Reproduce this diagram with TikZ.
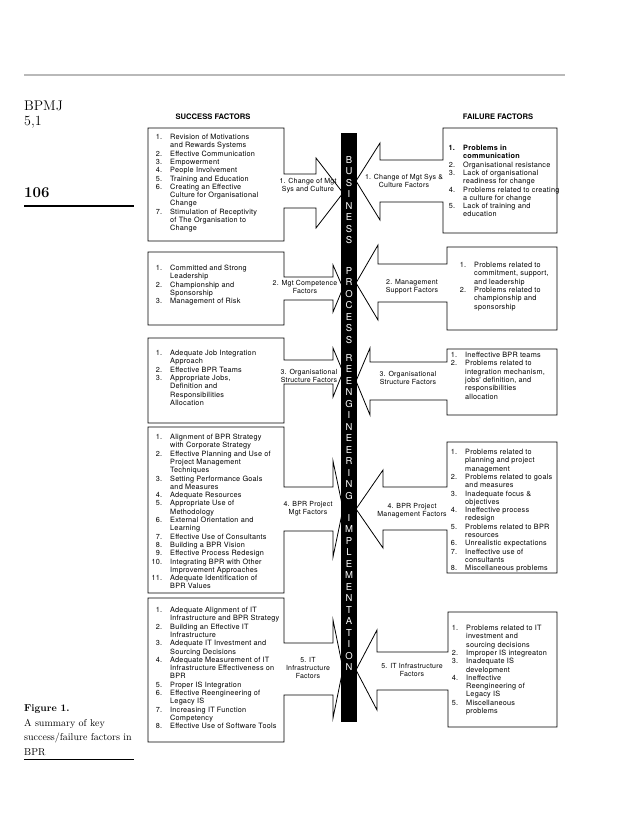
\documentclass[tikz,border=0pt]{standalone}
\usepackage{fontspec}
\usepackage{array}
\newfontfamily\helv[LetterSpace=3]{TeX Gyre Heros}
\newfontfamily\helvplain{TeX Gyre Heros}
\newcolumntype{R}[1]{>{\raggedleft\arraybackslash}p{#1}}
\newcommand{\flist}[1]{\begin{tabular}[t]{@{}R{12pt}@{\hspace{8pt}}l@{}}#1\end{tabular}}

\begin{document}
\begin{tikzpicture}[
  x=1pt, y=-1pt,
  frame/.style={draw, line width=0.8pt, fill=white, line join=miter},
  lst/.style={anchor=base west, inner sep=0pt,
              font=\helv\fontsize{7.3}{8.3}\selectfont},
  tag/.style={inner sep=0pt, align=center,
              font=\helv\fontsize{7}{7.8}\selectfont},
  headline/.style={inner sep=0pt, anchor=base,
                   font=\helvplain\bfseries\fontsize{7.6}{9}\selectfont},
  barch/.style={inner sep=0pt, text=white,
                font=\helvplain\fontsize{9.5}{10}\selectfont},
  side/.style={inner sep=0pt, anchor=base west, align=left}
]
  \useasboundingbox (0,0) rectangle (638,832);

  % page furniture
  \draw[line width=2pt, gray!55] (24,75) -- (565,75);
  \node[side, font=\fontsize{14}{15}\selectfont] (jrnl) at (24,111) {BPMJ};
  \node[side, font=\fontsize{14}{15}\selectfont] (vol) at (24,126) {5,1};
  \node[side, font=\bfseries\fontsize{15}{16}\selectfont] (page) at (24,197) {106};
  \draw[line width=2.5pt] (24,206) -- (134,206);
  \node[side, font=\fontsize{10}{14.5}\selectfont] (cap) at (24,755)
    {\textbf{Figure 1.}\\A summary of key\\success/failure factors in\\BPR};
  \draw[line width=0.6pt] (24,759.5) -- (134,759.5);

  % headings
  \node[headline] (succ) at (213,120) {SUCCESS FACTORS};
  \node[headline] (fail) at (498,120) {FAILURE FACTORS};

  % success boxes with arrows
  \foreach \t/\b/\sa/\sb/\ha/\hb/\bx/\ty in {
      128/241/174/208/158/228/316/193,
      252/325/277/300/265/312/333/288,
      338/423/360/384/348/397/333/372,
      427/593/487/531/461/557/333/509,
      598/742/643/695/620/718/333/669}
    \draw[frame] (148,\t) -- (284,\t) -- (284,\sa) -- (\bx,\sa) -- (\bx,\ha)
      -- (343,\ty) -- (\bx,\hb) -- (\bx,\sb) -- (284,\sb) -- (284,\b)
      -- (148,\b) -- cycle;

  % failure boxes with arrows
  \foreach \l/\t/\b/\sa/\sb/\ha/\hb/\bx/\ty in {
      443/128/233/160/202/143/220/380/181,
      447/247/330/264/302/245/320/378/283,
      447/349/415/362/400/348/415/370/381,
      447/442/573/487/530/470/548/383/509,
      448/612/727/652/690/630/710/377/670}
    \draw[frame] (557,\t) -- (\l,\t) -- (\l,\sa) -- (\bx,\sa) -- (\bx,\ha)
      -- (356,\ty) -- (\bx,\hb) -- (\bx,\sb) -- (\l,\sb) -- (\l,\b)
      -- (557,\b) -- cycle;

  % central bar
  \fill[black] (341,133) rectangle (357,722);
  \foreach \c [count=\i from 0] in {B,U,S,I,N,E,S,S}
    \node[barch] (bus\i) at (349,160+11.5*\i) {\c};
  \foreach \c [count=\i from 0] in {P,R,O,C,E,S,S}
    \node[barch] (pro\i) at (349,271+11.5*\i) {\c};
  \foreach \c [count=\i from 0] in {R,E,E,N,G,I,N,E,E,R,I,N,G}
    \node[barch] (ree\i) at (349,358+11.5*\i) {\c};
  \foreach \c [count=\i from 0] in {I,M,P,L,E,M,E,N,T,A,T,I,O,N}
    \node[barch] (imp\i) at (349,518+11.5*\i) {\c};

  % arrow labels
  \node[tag] (sl1) at (308,186) {1. Change of Mgt\\Sys and Culture};
  \node[tag] (sl2) at (305,287) {2. Mgt Competence\\Factors};
  \node[tag] (sl3) at (309,376) {3. Organisational\\Structure Factors};
  \node[tag] (sl4) at (308,509) {4. BPR Project\\Mgt Factors};
  \node[tag] (sl5) at (308,668) {5. IT\\Infrastructure\\Factors};
  \node[tag] (fl1) at (404,181) {1. Change of Mgt Sys \&\\Culture Factors};
  \node[tag] (fl2) at (412,287) {2. Management\\Support Factors};
  \node[tag] (fl3) at (408,378) {3. Organisational\\Structure Factors};
  \node[tag] (fl4) at (412,511) {4. BPR Project\\Management Factors};
  \node[tag] (fl5) at (412,670) {5. IT Infrastructure\\Factors};

  % success factor lists
  \node[lst] (sf1) at (150,139.5) {\flist{
    1. & Revision of Motivations\\
       & and Rewards Systems\\
    2. & Effective Communication\\
    3. & Empowerment\\
    4. & People Involvement\\
    5. & Training and Education\\
    6. & Creating an Effective\\
       & Culture for Organisational\\
       & Change\\
    7. & Stimulation of Receptivity\\
       & of The Organisation to\\
       & Change}};
  \node[lst] (sf2) at (150,270.5) {\flist{
    1. & Committed and Strong\\
       & Leadership\\
    2. & Championship and\\
       & Sponsorship\\
    3. & Management of Risk}};
  \node[lst] (sf3) at (150,355.5) {\flist{
    1. & Adequate Job Integration\\
       & Approach\\
    2. & Effective BPR Teams\\
    3. & Appropriate Jobs,\\
       & Definition and\\
       & Responsibilities\\
       & Allocation}};
  \node[lst] (sf4) at (150,439.5) {\flist{
    1. & Alignment of BPR Strategy\\
       & with Corporate Strategy\\
    2. & Effective Planning and Use of\\
       & Project Management\\
       & Techniques\\
    3. & Setting Performance Goals\\
       & and Measures\\
    4. & Adequate Resources\\
    5. & Appropriate Use of\\
       & Methodology\\
    6. & External Orientation and\\
       & Learning\\
    7. & Effective Use of Consultants\\
    8. & Building a BPR Vision\\
    9. & Effective Process Redesign\\
    10. & Integrating BPR with Other\\
        & Improvement Approaches\\
    11. & Adequate Identification of\\
        & BPR Values}};
  \node[lst] (sf5) at (150,612.5) {\flist{
    1. & Adequate Alignment of IT\\
       & Infrastructure and BPR Strategy\\
    2. & Building an Effective IT\\
       & Infrastructure\\
    3. & Adequate IT Investment and\\
       & Sourcing Decisions\\
    4. & Adequate Measurement of IT\\
       & Infrastructure Effectiveness on\\
       & BPR\\
    5. & Proper IS Integration\\
    6. & Effective Reengineering of\\
       & Legacy IS\\
    7. & Increasing IT Function\\
       & Competency\\
    8. & Effective Use of Software Tools}};

  % failure factor lists
  \node[lst] (ff1) at (443,150.5) {\flist{
    \textbf{1.} & \textbf{Problems in}\\
       & \textbf{communication}\\
    2. & Organisational resistance\\
    3. & Lack of organisational\\
       & readiness for change\\
    4. & Problems related to creating\\
       & a culture for change\\
    5. & Lack of training and\\
       & education}};
  \node[lst] (ff2) at (454,267.5) {\flist{
    1. & Problems related to\\
       & commitment, support,\\
       & and leadership\\
    2. & Problems related to\\
       & championship and\\
       & sponsorship}};
  \node[lst] (ff3) at (445,357.5) {\flist{
    1. & Ineffective BPR teams\\
    2. & Problems related to\\
       & integration mechanism,\\
       & jobs' definition, and\\
       & responsibilities\\
       & allocation}};
  \node[lst] (ff4) at (445,454.5) {\flist{
    1. & Problems related to\\
       & planning and project\\
       & management\\
    2. & Problems related to goals\\
       & and measures\\
    3. & Inadequate focus \&\\
       & objectives\\
    4. & Ineffective process\\
       & redesign\\
    5. & Problems related to BPR\\
       & resources\\
    6. & Unrealistic expectations\\
    7. & Ineffective use of\\
       & consultants\\
    8. & Miscellaneous problems}};
  \node[lst] (ff5) at (446,630.5) {\flist{
    1. & Problems related to IT\\
       & investment and\\
       & sourcing decisions\\
    2. & Improper IS integreaton\\
    3. & Inadequate IS\\
       & development\\
    4. & Ineffective\\
       & Reengineering of\\
       & Legacy IS\\
    5. & Miscellaneous\\
       & problems}};
\end{tikzpicture}
\end{document}
